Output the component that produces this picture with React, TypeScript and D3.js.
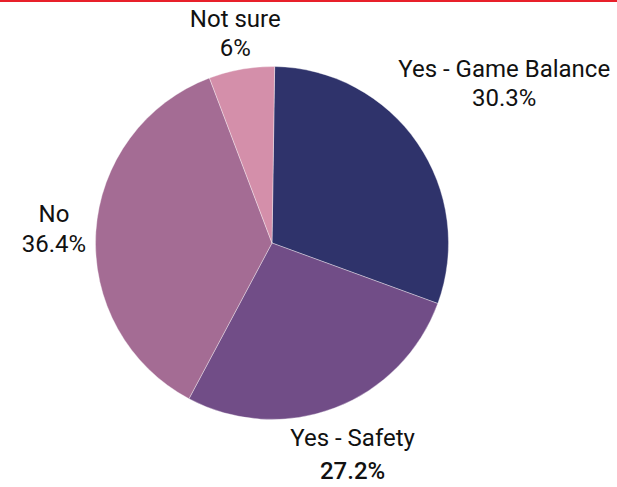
import React, { useEffect, useRef } from "react";
import * as d3 from "d3";

const categories = ["Yes - Game Balance", "Yes - Safety", "No", "Not sure"];
const values = [30.3, 27.2, 36.4, 6];
const valueLabels = ["30.3%", "27.2%", "36.4%", "6%"];
const colors = ["#2F336B", "#714D87", "#A46C94", "#D48FAA"];

const W = 617;
const H = 487;

export default function App() {
  const ref = useRef<SVGSVGElement>(null);

  useEffect(() => {
    const svg = d3.select(ref.current);
    svg.selectAll("*").remove();

    const cx = 272;
    const cy = 243;
    const r = 176.5;

    svg
      .append("rect")
      .attr("x", 0)
      .attr("y", 0)
      .attr("width", W)
      .attr("height", 2)
      .attr("fill", "#E8202A");

    const pie = d3
      .pie<number>()
      .sort(null)
      .startAngle(0.015)
      .endAngle(0.015 + Math.PI * 2);
    const arcs = pie(values);
    const arc = d3.arc<d3.PieArcDatum<number>>().innerRadius(0).outerRadius(r);

    const g = svg.append("g").attr("transform", `translate(${cx},${cy})`);
    g.selectAll("path")
      .data(arcs)
      .join("path")
      .attr("d", arc as any)
      .attr("fill", (_d, i) => colors[i])
      .attr("stroke", "#ffffff")
      .attr("stroke-width", 0.6)
      .attr("stroke-opacity", 0.6);

    const gaps = [2, -1, 8, 0];
    const lineGap = [29, 33, 30, 29];
    arcs.forEach((a, i) => {
      const lg = g.append("g");
      lg.append("text")
        .attr("text-anchor", "middle")
        .attr("font-family", "Roboto, 'DejaVu Sans', sans-serif")
        .attr("font-size", 24)
        .attr("fill", "#111")
        .attr("y", 0)
        .text(categories[i]);
      lg.append("text")
        .attr("text-anchor", "middle")
        .attr("font-family", "Roboto, 'DejaVu Sans', sans-serif")
        .attr("font-size", 24)
        .attr("font-weight", i === 1 ? 500 : 400)
        .attr("fill", "#111")
        .attr("y", lineGap[i])
        .text(valueLabels[i]);
      const bb = (lg.node() as SVGGElement).getBBox();
      const mid = (a.startAngle + a.endAngle) / 2;
      const sx = Math.sin(mid);
      const cyv = -Math.cos(mid);
      const proj = (Math.abs(sx) * bb.width) / 2 + (Math.abs(cyv) * bb.height) / 2;
      const d = r + gaps[i] + proj;
      const px = sx * d;
      const py = cyv * d;
      const bcx = bb.x + bb.width / 2;
      const bcy = bb.y + bb.height / 2;
      lg.attr("transform", `translate(${px - bcx},${py - bcy})`);
    });
  }, []);

  return (
    <svg
      ref={ref}
      width={W}
      height={H}
      style={{ position: "fixed", left: 0, top: 0, background: "#fff" }}
    />
  );
}
